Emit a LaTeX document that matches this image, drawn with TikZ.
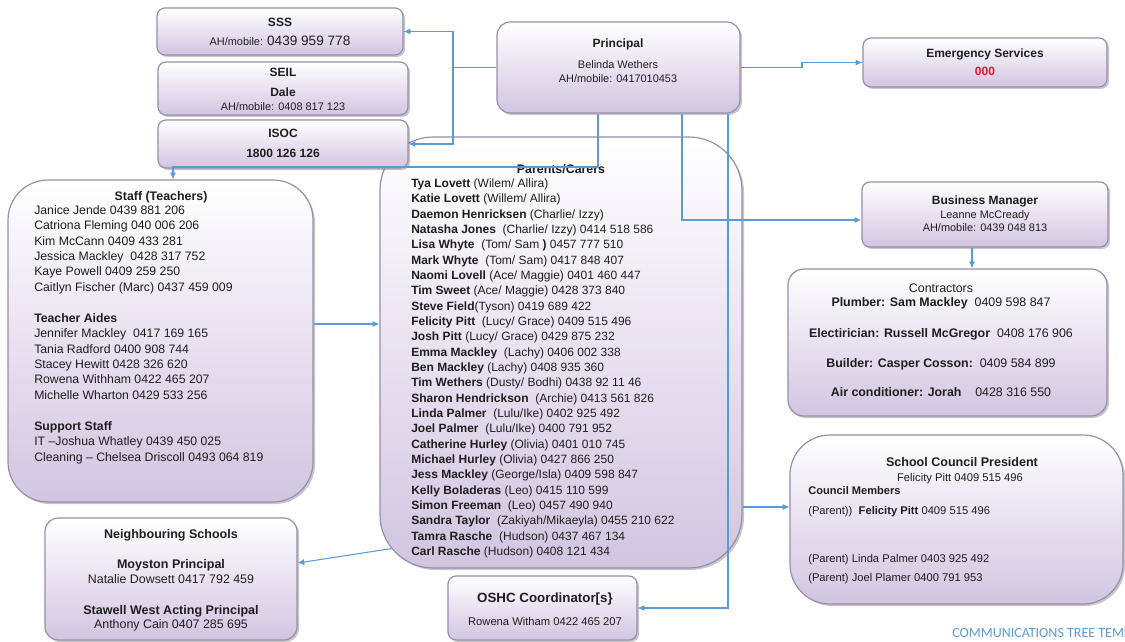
\documentclass[tikz,border=0pt]{standalone}
\usepackage{fontspec}
\setmainfont{Liberation Sans}
\newfontfamily\footfont{Carlito}
\usepackage{xcolor}
\usetikzlibrary{arrows.meta}
\usetikzlibrary{shadows}
\usetikzlibrary{fit}

\definecolor{linkblue}{RGB}{91,155,213}
\definecolor{boxedge}{RGB}{152,142,174}
\definecolor{boxlav}{RGB}{209,197,225}
\definecolor{alarmred}{RGB}{232,22,42}
\definecolor{inktext}{RGB}{30,30,30}

\begin{document}
\begin{tikzpicture}[x=0.75pt, y=-0.75pt,
    card/.style={draw=boxedge, line width=0.9pt, rounded corners=6pt,
      top color=white, bottom color=boxlav, inner sep=0pt,
      drop shadow={shadow xshift=1.5pt, shadow yshift=-1.5pt, fill=black!55, opacity=0.4}},
    bigcard/.style={card, rounded corners=30pt},
    link/.style={draw=linkblue, line width=0.8pt, -{Latex[length=5pt, width=4.5pt]}},
    boxhead/.style={inner sep=0pt, anchor=base, text=inktext, font=\fontsize{9}{11}\selectfont\bfseries},
    boxline/.style={inner sep=0pt, anchor=base, text=inktext, font=\fontsize{8.2}{10}\selectfont},
    bodyline/.style={inner sep=0pt, anchor=base, text=inktext, font=\fontsize{9.3}{11}\selectfont},
    councilline/.style={inner sep=0pt, anchor=base west, text=inktext, font=\fontsize{8.4}{10}\selectfont},
    namelist/.style={inner sep=0pt, anchor=north west, align=left, text=inktext, font=\fontsize{9}{11.5}\selectfont}]
        \useasboundingbox (0,0) rectangle (1125,642);
        %big boxes
        \node[bigcard, rounded corners=40pt, fit={(380,137) (742,568)}] (parents) {};
        \node[bigcard, fit={(8,180) (313,502)}] (staff) {};
        \node[bigcard, fit={(790,435) (1123,604)}] (council) {};
        %small boxes
        \node[card, fit={(157,8) (403,55)}] (sss) {};
        \node[card, fit={(158,62) (408,115)}] (seil) {};
        \node[card, fit={(158,120) (408,168)}] (isoc) {};
        \node[card, rounded corners=10pt, fit={(497,22) (740,113)}] (principal) {};
        \node[card, fit={(863,38) (1107,87)}] (emergency) {};
        \node[card, fit={(862,182) (1108,247)}] (business) {};
        \node[card, rounded corners=12pt, fit={(788,269) (1107,416)}] (contractors) {};
        \node[card, rounded corners=10pt, fit={(45,518) (297,640)}] (neighbours) {};
        \node[card, fit={(448,576) (637,640)}] (oshc) {};
        %support units
        \node[boxhead] (sss-title) at (280,26.3) {SSS};
        \node[boxline] (sss-phone) at (280,45.5) {AH/mobile: {\fontsize{10.2}{12}\selectfont 0439 959 778}};
        \node[boxhead] (seil-title) at (283,76.3) {SEIL};
        \node[boxhead] (seil-name) at (283,96.3) {Dale};
        \node[boxline] (seil-phone) at (283,111) {AH/mobile: 0408 817 123};
        \node[boxhead] (isoc-title) at (283,137.3) {ISOC};
        \node[boxhead] (isoc-phone) at (283,157.3) {1800 126 126};
        %principal
        \node[boxhead] (principal-title) at (618,47.3) {Principal};
        \node[boxline] (principal-name) at (618,68.9) {Belinda Wethers};
        \node[boxline] (principal-phone) at (618,82.9) {AH/mobile: 0417010453};
        %emergency, business manager, contractors
        \node[boxhead] (emergency-title) at (985,57.3) {Emergency Services};
        \node[boxhead, text=alarmred] (emergency-phone) at (985,75.3) {000};
        \node[boxhead] (business-title) at (985,204.3) {Business Manager};
        \node[boxline] (business-name) at (985,218.9) {Leanne McCready};
        \node[boxline] (business-phone) at (985,231.9) {AH/mobile: 0439 048 813};
        \node[bodyline] (contractors-title) at (941,292.3) {Contractors};
        \node[bodyline] (plumber) at (941,306.3) {\textbf{Plumber: Sam Mackley}\ \ 0409 598 847};
        \node[bodyline] (electrician) at (941,337.3) {\textbf{Electirician: Russell McGregor}\ \ 0408 176 906};
        \node[bodyline] (builder) at (941,367.3) {\textbf{Builder: Casper Cosson:}\ \ 0409 584 899};
        \node[bodyline] (aircon) at (941,396.3) {\textbf{Air conditioner: Jorah}\ \ \ \ 0428 316 550};
        %staff
        \node[boxhead, font=\fontsize{9.3}{11}\selectfont\bfseries] (staff-title) at (161,200.3) {Staff (Teachers)};
        \node[namelist, font=\fontsize{9.2}{11.5}\selectfont] (staff-list) at (34,203.6)
              {\strut Janice Jende 0439 881 206\\
               Catriona\ Fleming 040 006 206\\
               Kim McCann 0409 433 281\\
               Jessica Mackley\ \ 0428 317 752\\
               Kaye Powell 0409 259 250\\
               Caitlyn Fischer (Marc) 0437 459 009\\[12pt]
               \textbf{Teacher Aides}\\
               Jennifer\ Mackley\ \ 0417 169 165\\
               Tania Radford 0400 908 744\\
               Stacey Hewitt 0428 326 620\\
               Rowena Withham 0422 465 207\\
               Michelle Wharton 0429 533 256\\[12pt]
               \textbf{Support Staff}\\
               IT --Joshua Whatley 0439 450 025\\
               Cleaning\ -- Chelsea Driscoll 0493 064 819};
        %parents
        \node[boxhead, font=\fontsize{9.3}{11}\selectfont\bfseries] (parents-title) at (561,173.5) {Parents/Carers};
        \node[namelist] (parents-list) at (411,176.6)
              {\strut\textbf{Tya Lovett} (Wilem/ Allira)\\
               \textbf{Katie Lovett} (Willem/ Allira)\\
               \textbf{Daemon Henricksen} (Charlie/ Izzy)\\
               \textbf{Natasha Jones}\ \ (Charlie/ Izzy) 0414 518 586\\
               \textbf{Lisa Whyte}\ \ (Tom/ Sam \textbf{)} 0457 777 510\\
               \textbf{Mark Whyte}\ \ (Tom/ Sam) 0417 848 407\\
               \textbf{Naomi Lovell} (Ace/ Maggie) 0401 460 447\\
               \textbf{Tim Sweet} (Ace/ Maggie) 0428 373 840\\
               \textbf{Steve Field}(Tyson) 0419 689 422\\
               \textbf{Felicity Pitt}\ \ (Lucy/ Grace) 0409 515 496\\
               \textbf{Josh Pitt}\ (Lucy/ Grace) 0429 875 232\\
               \textbf{Emma Mackley}\ \ (Lachy) 0406 002 338\\
               \textbf{Ben Mackley} (Lachy) 0408 935 360\\
               \textbf{Tim Wethers} (Dusty/ Bodhi) 0438 92 11 46\\
               \textbf{Sharon Hendrickson}\ \ (Archie) 0413 561 826\\
               \textbf{Linda Palmer}\ \ (Lulu/Ike) 0402 925 492\\
               \textbf{Joel Palmer}\ \ (Lulu/Ike) 0400 791 952\\
               \textbf{Catherine Hurley} (Olivia) 0401 010 745\\
               \textbf{Michael Hurley} (Olivia) 0427 866 250\\
               \textbf{Jess Mackley} (George/Isla) 0409 598 847\\
               \textbf{Kelly Boladeras} (Leo) 0415 110 599\\
               \textbf{Simon Freeman}\ \ (Leo) 0457 490 940\\
               \textbf{Sandra Taylor}\ \ (Zakiyah/Mikaeyla) 0455 210 622\\
               \textbf{Tamra Rasche}\ \ (Hudson) 0437 467 134\\
               \textbf{Carl Rasche} (Hudson) 0408 121 434};
        %neighbouring schools
        \node[boxhead, font=\fontsize{9.4}{11}\selectfont\bfseries] (neighbours-title) at (171,538.5) {Neighbouring Schools};
        \node[boxhead, font=\fontsize{9.4}{11}\selectfont\bfseries] (moyston-title) at (171,568.5) {Moyston Principal};
        \node[bodyline] (moyston-name) at (171,583.5) {Natalie Dowsett 0417 792 459};
        \node[boxhead, font=\fontsize{9.4}{11}\selectfont\bfseries] (stawell-title) at (171,614.5) {Stawell West Acting Principal};
        \node[bodyline] (stawell-name) at (171,628.5) {Anthony Cain 0407 285 695};
        %oshc
        \node[boxhead, font=\fontsize{10}{12}\selectfont\bfseries] (oshc-title) at (545,602.8) {OSHC Coordinator[s\}};
        \node[boxline, font=\fontsize{8.4}{10}\selectfont] (oshc-name) at (545,625) {Rowena Witham 0422 465 207};
        %school council
        \node[boxhead, font=\fontsize{9.4}{11}\selectfont\bfseries] (council-title) at (962,466.5) {School Council President};
        \node[boxline, font=\fontsize{8.4}{10}\selectfont] (council-president) at (960,481) {Felicity Pitt 0409 515 496};
        \node[councilline, font=\fontsize{8.3}{10}\selectfont\bfseries] (council-members) at (808,494.3) {Council Members};
        \node[councilline] (member-one) at (808,514) {(Parent))\ \ \textbf{Felicity Pitt} 0409 515 496};
        \node[councilline] (member-two) at (808,562) {(Parent) Linda Palmer 0403 925 492};
        \node[councilline] (member-three) at (808,581) {(Parent) Joel Plamer 0400 791 953};
        %footer
        \begin{scope}
          \clip (0,0) rectangle (1125,642);
          \node[inner sep=0pt, anchor=base west, text=linkblue, font=\footfont\fontsize{10.5}{12}\selectfont] (footer) at (952,637) {COMMUNICATIONS TREE TEMPLATE};
        \end{scope}
        %connectors
        \coordinate (fork) at (453,67.5);
        \draw[link] (principal.west) -- (fork) |- (sss.east);
        \draw[link] (fork) |- (isoc.east);
        \draw[link] (principal.south -| 598,0) |- (173,167) -- (staff.north -| 173,0);
        \draw[link] (principal.south -| 682,0) |- (business.west |- 0,220);
        \draw[link] (principal.south -| 728,0) |- (oshc.east);
        \draw[link] (principal.east) -- (802,67.5) |- (emergency.west);
        \draw[link] (staff.east |- 0,324) -- (parents.west |- 0,324);
        \draw[link] ([shift={(12,-20)}]parents.south west) -- (neighbours.east |- 0,563);
        \draw[link] (parents.east |- 0,507) -- (council.west |- 0,507);
        \draw[link] (business.south -| 972,0) -- (contractors.north -| 972,0);
\end{tikzpicture}
\end{document}
